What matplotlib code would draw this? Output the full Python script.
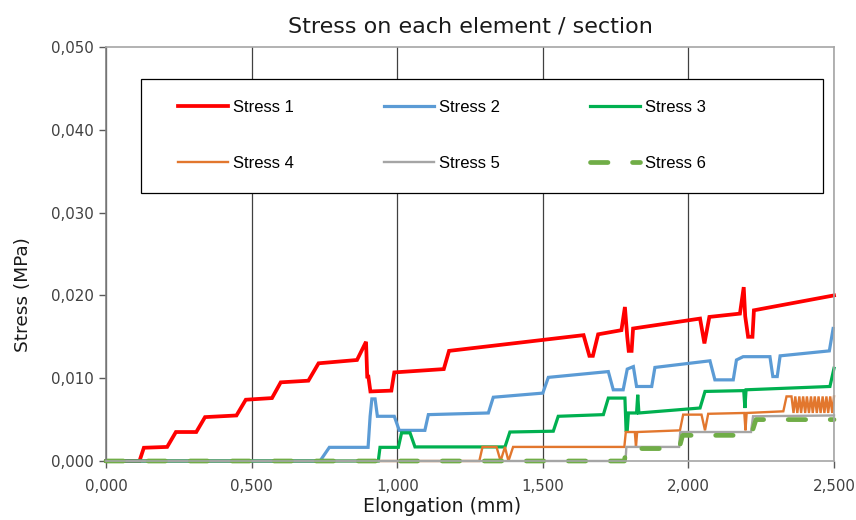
import matplotlib
matplotlib.use('Agg')
import matplotlib.pyplot as plt
from matplotlib.patches import Rectangle
from matplotlib.ticker import FuncFormatter, MultipleLocator

# Stress 1 .. 6, vertices (elongation mm, stress MPa)
s1_x = [0, 0.115, 0.13, 0.21, 0.24, 0.31, 0.34, 0.448, 0.48, 0.57, 0.60, 0.695, 0.73,
        0.862, 0.893, 0.897, 0.901, 0.908, 0.98, 0.99, 1.16, 1.178, 1.64, 1.66, 1.672,
        1.69, 1.77, 1.782, 1.79, 1.795, 1.805, 1.81, 2.04, 2.055, 2.072, 2.177, 2.19,
        2.195, 2.205, 2.22, 2.225, 2.5]
s1_y = [0, 0, 0.0016, 0.0017, 0.0035, 0.0035, 0.0053, 0.0055, 0.0074, 0.0076, 0.0095,
        0.0097, 0.0118, 0.0122, 0.0144, 0.0102, 0.0102, 0.0084, 0.0085, 0.0107, 0.0111,
        0.0133, 0.0152, 0.0127, 0.0127, 0.0153, 0.0158, 0.0186, 0.0150, 0.0133, 0.0133,
        0.0160, 0.0172, 0.0142, 0.0174, 0.0178, 0.0210, 0.0175, 0.0150, 0.0150, 0.0182,
        0.0200]

s2_x = [0, 0.735, 0.767, 0.90, 0.907, 0.913, 0.924, 0.932, 0.99, 1.007, 1.095, 1.107,
        1.313, 1.33, 1.50, 1.519, 1.725, 1.742, 1.776, 1.79, 1.811, 1.822, 1.874, 1.885,
        2.074, 2.091, 2.154, 2.165, 2.188, 2.28, 2.29, 2.305, 2.315, 2.484, 2.497]
s2_y = [0, 0, 0.00165, 0.00165, 0.0054, 0.0075, 0.0075, 0.0054, 0.0054, 0.0037, 0.0037,
        0.0056, 0.0058, 0.0077, 0.0082, 0.0101, 0.0108, 0.0086, 0.0086, 0.0111, 0.0114,
        0.0090, 0.0090, 0.0113, 0.0121, 0.0098, 0.0098, 0.0122, 0.0126, 0.0126, 0.0102,
        0.0102, 0.0127, 0.0133, 0.0160]

s3_x = [0, 0.935, 0.941, 1.004, 1.015, 1.044, 1.061, 1.37, 1.387, 1.536, 1.553, 1.708,
        1.725, 1.782, 1.786, 1.79, 1.794, 1.822, 1.826, 1.83, 2.04, 2.057, 2.19, 2.194,
        2.198, 2.486, 2.5]
s3_y = [0, 0, 0.00165, 0.00165, 0.0034, 0.0034, 0.0017, 0.0017, 0.0035, 0.0036, 0.0054,
        0.0056, 0.0076, 0.0076, 0.0037, 0.0037, 0.0058, 0.0058, 0.0080, 0.0058, 0.0064,
        0.0084, 0.0085, 0.0064, 0.0086, 0.0090, 0.0112]

s4_x = [0, 1.282, 1.293, 1.341, 1.355, 1.37, 1.382, 1.398, 1.78, 1.785, 1.816, 1.82,
        1.824, 1.971, 1.982, 2.045, 2.057, 2.068, 2.192, 2.196, 2.2, 2.326, 2.337, 2.354,
        2.361, 2.367, 2.374, 2.381, 2.387, 2.394, 2.401, 2.407, 2.414, 2.421, 2.427,
        2.434, 2.441, 2.447, 2.454, 2.461, 2.467, 2.474, 2.480, 2.487, 2.494, 2.5]
s4_y = [0, 0, 0.0017, 0.0017, 0, 0.0017, 0, 0.0017, 0.0017, 0.0035, 0.0035, 0.0017,
        0.0035, 0.0037, 0.0056, 0.0056, 0.0037, 0.0057, 0.0058, 0.0037, 0.0058, 0.0060,
        0.0078, 0.0078, 0.0058, 0.0078, 0.0058, 0.0078, 0.0058, 0.0078, 0.0058, 0.0078,
        0.0058, 0.0078, 0.0058, 0.0078, 0.0058, 0.0078, 0.0058, 0.0078, 0.0058, 0.0078,
        0.0058, 0.0078, 0.0058, 0.0078]

s5_x = [0, 1.784, 1.787, 1.968, 1.972, 2.215, 2.222, 2.5]
s5_y = [0, 0, 0.0017, 0.0017, 0.0035, 0.0035, 0.0054, 0.0055]

s6_x = [0, 1.78, 1.787, 1.968, 1.98, 2.215, 2.232, 2.5]
s6_y = [0, 0, 0.0015, 0.0015, 0.0031, 0.0031, 0.0050, 0.0050]

labels = ['Stress 1', 'Stress 2', 'Stress 3', 'Stress 4', 'Stress 5', 'Stress 6']
colors = ['#FF0000', '#5B9BD5', '#00B050', '#E2772E', '#A5A5A5', '#70AD47']

fig = plt.figure(figsize=(8.56, 5.2), dpi=100)
ax = fig.add_axes([106 / 856, 1 - 461 / 520, 728 / 856, 414 / 520])

series = [(s1_x, s1_y), (s2_x, s2_y), (s3_x, s3_y), (s4_x, s4_y), (s5_x, s5_y)]
widths = [2.7, 2.3, 2.3, 1.7, 1.7]
handles = []
for (xs, ys), lab, c, w in zip(series, labels, colors, widths):
    h, = ax.plot(xs, ys, color=c, lw=w, label=lab, solid_joinstyle='miter',
                 clip_on=False)
    handles.append(h)
h, = ax.plot(s6_x, s6_y, color=colors[5], lw=3.4, label=labels[5],
             linestyle=(0, (3.7, 5.2)), dash_capstyle='round', clip_on=False)
handles.append(h)

ax.set_xlim(0, 2.5)
ax.set_ylim(0, 0.05)
ax.xaxis.set_major_locator(MultipleLocator(0.5))
ax.yaxis.set_major_locator(MultipleLocator(0.01))
fmt = FuncFormatter(lambda v, p: f'{v:.3f}'.replace('.', ','))
ax.xaxis.set_major_formatter(fmt)
ax.yaxis.set_major_formatter(fmt)
ax.tick_params(axis='both', labelsize=10.8, colors='#595959', labelcolor='#404040',
               length=5, width=1)
ax.tick_params(axis='x', pad=8)
ax.tick_params(axis='y', pad=4)
ax.xaxis.grid(True, color='#404040', lw=0.9)
ax.set_axisbelow(True)
for side in ['top', 'right', 'bottom']:
    ax.spines[side].set_color('#A6A6A6')
    ax.spines[side].set_linewidth(1.2)
ax.spines['left'].set_color('#808080')
ax.spines['left'].set_linewidth(1.2)

fig.text(470 / 856, 1 - 33 / 520, 'Stress on each element / section',
         fontsize=16, color='#1a1a1a', ha='center', va='baseline')
fig.text(442 / 856, 1 - 512 / 520, 'Elongation (mm)',
         fontsize=13.6, color='#1a1a1a', ha='center', va='baseline')
fig.text(23 / 856, 1 - 295 / 520, 'Stress (MPa)', rotation=90,
         fontsize=13.3, color='#1a1a1a', ha='center', va='center')

# legend box drawn separately, entries laid out in rows like the original
ax.add_patch(Rectangle((0.048, 0.647), 0.937, 0.276, transform=ax.transAxes,
                       facecolor='white', edgecolor='black', lw=0.9, zorder=3))
order = [0, 3, 1, 4, 2, 5]
leg = ax.legend([handles[i] for i in order], [labels[i] for i in order],
                loc='upper left', bbox_to_anchor=(0.0989, 0.873), ncol=3,
                handlelength=3.0, handletextpad=0.3, columnspacing=5.4,
                labelspacing=2.5, borderpad=0, borderaxespad=0, frameon=False,
                prop={'family': ['Liberation Sans', 'DejaVu Sans'], 'size': 12})
leg.set_zorder(5)

fig.savefig('out.png', dpi=100)
